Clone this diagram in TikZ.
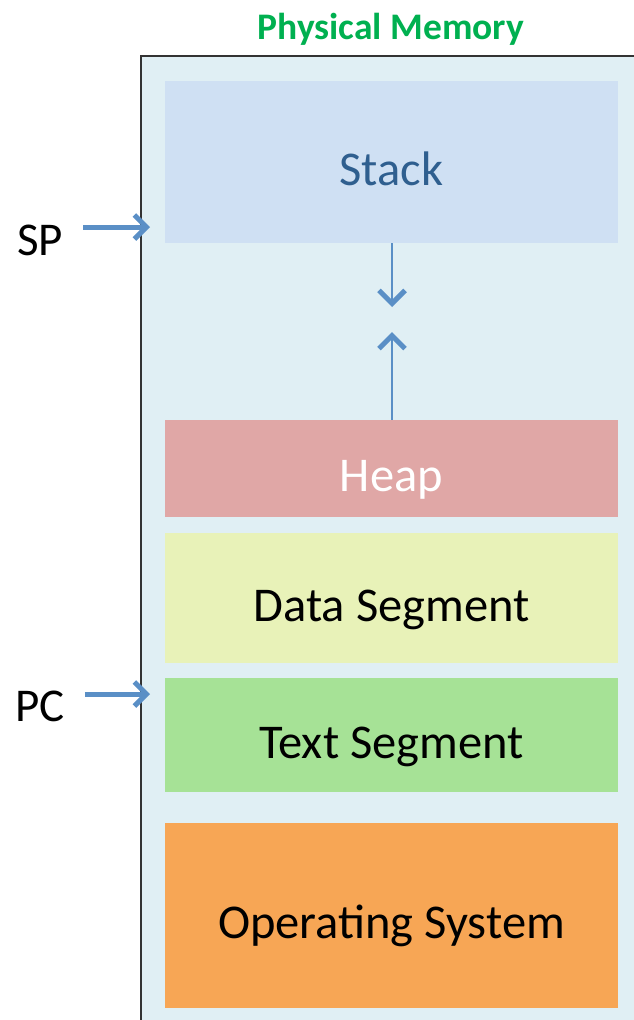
\documentclass[tikz,border=0pt]{standalone}
\usepackage{fontspec}
\setmainfont{Carlito}
\usetikzlibrary{arrows.meta}

\definecolor{memBg}{HTML}{E0EFF4}
\definecolor{stackFill}{HTML}{CFE0F3}
\definecolor{stackText}{HTML}{2F5F8F}
\definecolor{heapFill}{HTML}{E0A7A6}
\definecolor{dataFill}{HTML}{E8F2B8}
\definecolor{textFill}{HTML}{A6E296}
\definecolor{osFill}{HTML}{F7A655}
\definecolor{ptrBlue}{HTML}{5A8FC6}
\definecolor{titleGreen}{HTML}{00B050}

\tikzset{
    segbox/.style={inner sep=0pt, minimum width=453pt, text height=51pt, text depth=5pt,
        font=\fontsize{48.5}{54}\selectfont},
    regname/.style={inner sep=0pt, anchor=base, font=\fontsize{47}{52}\selectfont},
    ptr/.style={ptrBlue, line width=5pt, -{Straight Barb[length=12pt, width=24pt, line width=5pt]}},
    growarrow/.style={ptrBlue, line width=2.2pt, -{Straight Barb[length=13pt, width=26pt, line width=5pt]}}
}

\begin{document}
\begin{tikzpicture}[x=1pt, y=-1pt]
    \useasboundingbox (0,0) rectangle (634,1020);
    \clip (0,0) rectangle (634,1020);

    % physical memory frame
    \fill[memBg] (141,56) rectangle (660,1040);
    \draw[line width=2pt, black!80] (660,56) -- (141,56) -- (141,1040);
    \node[font=\bfseries\fontsize{37.5}{42}\selectfont, text=titleGreen, inner sep=0pt, anchor=base]
        (title) at (391,39) {Physical Memory};

    % segments
    \foreach \name/\ytop/\ybot/\fillc/\txtc/\label in {
        stack/81/243/stackFill/stackText/Stack,
        heap/420/517/heapFill/white/Heap,
        data/533/663/dataFill/black/Data Segment,
        text/678/792/textFill/black/Text Segment,
        os/823/1008/osFill/black/Operating System
    } {
        \node[segbox, fill=\fillc, text=\txtc, minimum height={(\ybot-\ytop)*1pt}]
            (\name) at (391.5,{(\ytop+\ybot)/2}) {\label};
    }

    % stack and heap growth
    \coordinate (stackEnd) at (392,307);
    \coordinate (heapEnd) at (392,332);
    \draw[growarrow] (stack.south -| stackEnd) -- (stackEnd);
    \draw[growarrow] (heap.north -| heapEnd) -- (heapEnd);

    % registers
    \node[regname] (sp) at (40,255) {SP};
    \node[regname] (pc) at (40,721) {PC};
    \coordinate (spTip) at (150,227);
    \coordinate (pcTip) at (150,694);
    \draw[ptr, shorten <=20pt] (sp.east |- spTip) -- (spTip);
    \draw[ptr, shorten <=20pt] (pc.east |- pcTip) -- (pcTip);
\end{tikzpicture}
\end{document}
